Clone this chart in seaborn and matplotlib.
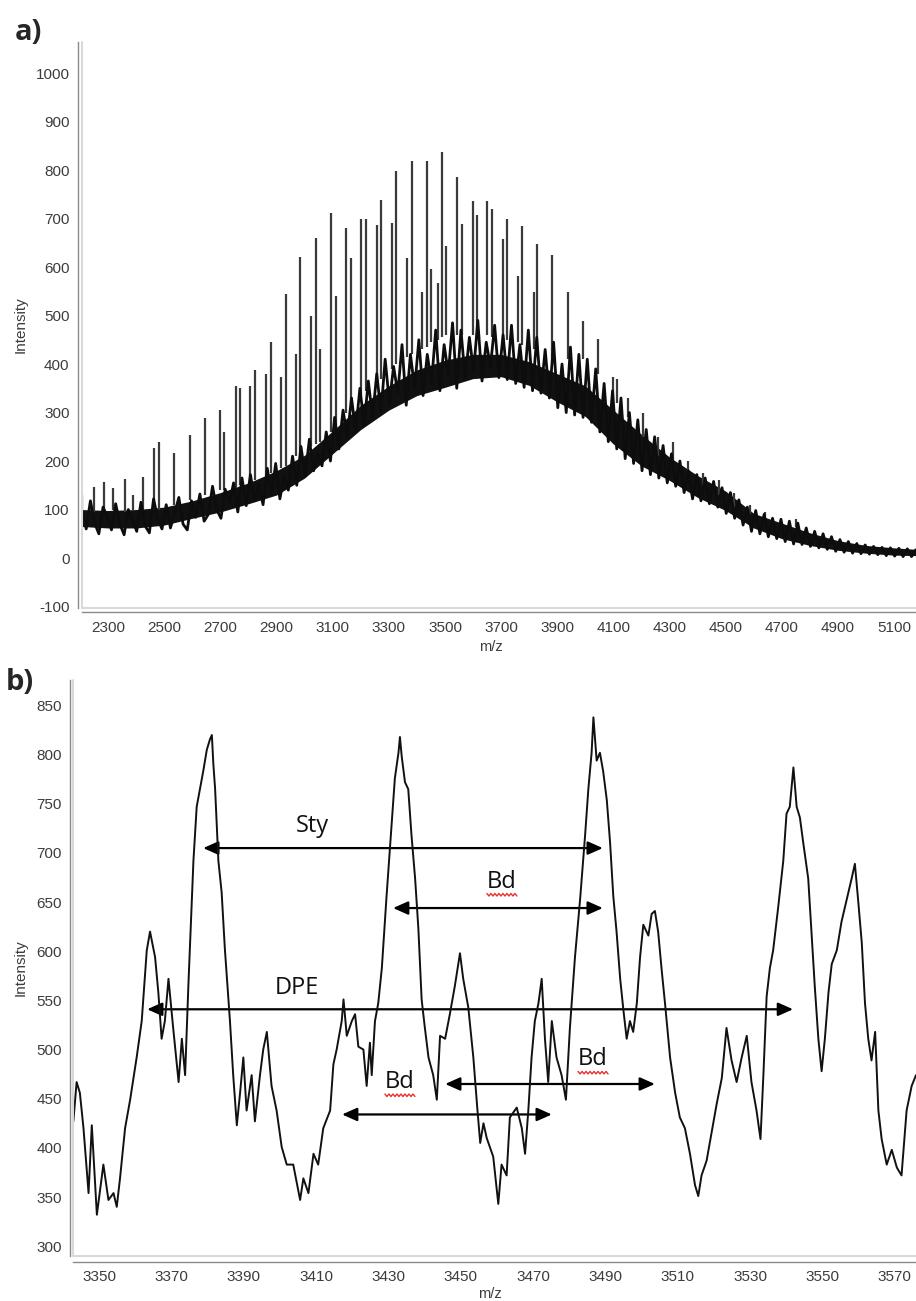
import numpy as np
import pandas as pd
import matplotlib
matplotlib.use("Agg")
import matplotlib.pyplot as plt
import seaborn as sns
from matplotlib.ticker import MultipleLocator, FixedLocator
from matplotlib.patches import FancyArrowPatch
from matplotlib.lines import Line2D
from matplotlib.transforms import IdentityTransform

# ---------------- data: panel a (full spectrum) ----------------
# noisy baseline trace, sampled every 15 m/z from 2207 to 5177
A_TRACE_START, A_TRACE_STEP = 2207, 15
A_TRACE = [95, 60, 118, 72, 50, 105, 85, 58, 112, 70,
           48, 100, 78, 55, 115, 66, 52, 122, 80, 60,
           110, 62, 92, 125, 70, 58, 118, 84, 132, 76,
           90, 148, 100, 82, 142, 112, 155, 95, 165, 108,
           172, 118, 150, 110, 185, 130, 195, 122, 170, 140,
           210, 150, 230, 170, 245, 180, 215, 190, 260, 200,
           290, 225, 305, 250, 330, 262, 350, 275, 365, 290,
           380, 300, 410, 320, 395, 340, 440, 315, 420, 350,
           450, 335, 420, 360, 470, 345, 440, 380, 485, 350,
           470, 370, 455, 385, 490, 365, 445, 395, 480, 372,
           460, 368, 480, 360, 440, 352, 470, 345, 455, 340,
           430, 330, 445, 310, 400, 300, 435, 295, 420, 290,
           410, 280, 390, 260, 360, 240, 345, 225, 330, 205,
           300, 195, 285, 180, 265, 172, 250, 165, 232, 155,
           215, 148, 200, 135, 180, 122, 172, 118, 165, 112,
           158, 105, 145, 92, 135, 82, 120, 68, 105, 55,
           98, 50, 90, 44, 82, 40, 80, 34, 76, 29,
           72, 28, 62, 24, 55, 21, 50, 18, 44, 14,
           38, 12, 34, 10, 30, 9, 27, 8, 24, 7,
           22, 5, 21, 4, 20, 3, 19, 3, 17]
# dense core of the noisy trace (where it is nearly solid black)
A_CORE_MZ = [2207, 2300, 2400, 2500, 2600, 2700, 2800, 2900, 3000, 3100, 3200, 3300, 3400, 3500,
             3600, 3700, 3800, 3900, 4000, 4100, 4200, 4300, 4400, 4500, 4600, 4700, 4800, 4900,
             5000, 5100, 5178]
A_CORE_LO = [65, 62, 62, 68, 82, 95, 112, 130, 165, 215, 265, 305, 335, 352,
             370, 374, 356, 322, 292, 235, 190, 160, 125, 98, 62, 40, 26, 16,
             10, 6, 5]
A_CORE_HI = [100, 98, 100, 105, 118, 135, 155, 180, 212, 262, 315, 355, 388, 408,
             420, 420, 405, 380, 355, 305, 255, 208, 170, 138, 92, 72, 52, 36,
             26, 21, 18]
# sharp oligomer peaks
A_SPIKE_MZ = [2208, 2248, 2287, 2319, 2361, 2390, 2426, 2465, 2482, 2536, 2590, 2646, 2700, 2714,
              2754, 2770, 2807, 2823, 2861, 2879, 2917, 2932, 2969, 2983, 3024, 3039, 3055, 3093,
              3111, 3146, 3164, 3202, 3218, 3257, 3271, 3311, 3326, 3364, 3381, 3419, 3435, 3450,
              3474, 3488, 3504, 3543, 3560, 3599, 3613, 3651, 3667, 3706, 3721, 3759, 3775, 3816,
              3829, 3882, 3938, 3992, 4045, 4099, 4113, 4153, 4207, 4260, 4313, 4367, 4420, 4475,
              4530, 4585, 4640, 4750]
A_SPIKE_TOP = [130, 147, 157, 144, 164, 130, 168, 226, 240, 216, 253, 288, 305, 260,
               355, 351, 355, 387, 380, 445, 373, 544, 420, 620, 500, 660, 432, 712,
               541, 681, 619, 700, 700, 686, 739, 691, 797, 619, 818, 548, 818, 595,
               568, 837, 643, 786, 688, 736, 708, 736, 720, 657, 700, 582, 684, 548,
               647, 624, 549, 489, 452, 373, 370, 330, 300, 250, 240, 200, 175, 160,
               135, 110, 95, 80]
A_SPIKE_BASE = [90, 95, 95, 100, 95, 100, 100, 100, 100, 110, 120, 130, 140, 140,
                145, 150, 155, 160, 170, 175, 185, 190, 210, 215, 230, 235, 240, 260,
                275, 300, 315, 335, 345, 360, 370, 390, 400, 415, 420, 430, 435, 445,
                450, 455, 460, 460, 460, 460, 460, 460, 455, 450, 450, 445, 440, 430,
                430, 410, 410, 410, 380, 330, 320, 290, 250, 210, 200, 160, 150, 130,
                105, 90, 80, 65]
A_XTICKS = [2300, 2500, 2700, 2900, 3100, 3300, 3500, 3700, 3900, 4100, 4300, 4500, 4700, 4900, 5100]
A_YTICKS = [-100, 0, 100, 200, 300, 400, 500, 600, 700, 800, 900, 1000]

# ---------------- data: panel b (zoomed spectrum) ----------------
B_MZ = [3342.9, 3343.8, 3344.7, 3345.7, 3347.1, 3348.0, 3349.4, 3351.2, 3352.6, 3354.0, 3354.9, 3355.8,
        3357.2, 3358.6, 3360.4, 3361.8, 3363.2, 3364.1, 3365.5, 3366.4, 3367.3, 3368.2, 3369.2, 3370.5,
        3372.0, 3372.9, 3373.8, 3374.7, 3376.1, 3377.0, 3377.9, 3378.8, 3379.8, 3380.7, 3381.2, 3381.6,
        3382.1, 3383.0, 3383.9, 3384.8, 3386.2, 3387.1, 3388.1, 3389.0, 3389.9, 3390.8, 3392.2, 3393.1,
        3394.5, 3395.4, 3396.4, 3397.7, 3399.1, 3400.5, 3401.9, 3403.7, 3405.6, 3406.5, 3407.9, 3409.3,
        3410.6, 3412.0, 3413.9, 3414.8, 3415.7, 3417.1, 3417.6, 3418.5, 3419.9, 3420.8, 3421.7, 3423.1,
        3424.0, 3424.9, 3425.4, 3426.3, 3427.2, 3428.2, 3429.5, 3430.9, 3431.8, 3432.8, 3433.2, 3433.7,
        3434.6, 3435.5, 3436.4, 3437.4, 3438.3, 3439.2, 3440.1, 3441.1, 3442.4, 3443.4, 3444.3, 3445.7,
        3447.0, 3448.4, 3449.8, 3450.7, 3452.1, 3453.5, 3454.6, 3455.4, 3456.3, 3457.2, 3459.0, 3460.4,
        3461.3, 3462.7, 3463.6, 3465.5, 3466.9, 3467.8, 3468.7, 3469.6, 3470.5, 3471.5, 3472.4, 3473.3,
        3474.2, 3475.2, 3476.5, 3477.9, 3479.1, 3480.2, 3481.6, 3483.0, 3484.4, 3485.3, 3486.2, 3486.7,
        3487.6, 3488.5, 3489.4, 3490.4, 3491.3, 3492.2, 3493.1, 3494.1, 3495.0, 3495.9, 3496.8, 3497.7,
        3498.7, 3499.6, 3500.5, 3501.9, 3502.8, 3503.7, 3504.6, 3505.6, 3506.5, 3507.9, 3509.3, 3510.6,
        3512.0, 3513.4, 3514.8, 3515.7, 3516.6, 3518.0, 3519.4, 3520.8, 3522.2, 3523.5, 3524.9, 3526.3,
        3527.7, 3529.1, 3530.4, 3531.8, 3532.9, 3533.7, 3534.6, 3535.5, 3536.4, 3537.8, 3539.2, 3540.1,
        3541.0, 3542.0, 3542.9, 3543.8, 3544.7, 3546.1, 3547.0, 3547.9, 3548.9, 3549.8, 3550.7, 3551.7,
        3552.6, 3554.0, 3555.3, 3556.7, 3558.1, 3559.0, 3559.9, 3560.9, 3561.8, 3562.7, 3563.6, 3564.6,
        3565.5, 3566.4, 3567.8, 3569.2, 3570.6, 3571.9, 3573.3, 3574.7, 3575.9]
B_INT = [427, 467, 456, 420, 354, 423, 332, 383, 347, 354, 340, 369,
         420, 449, 492, 529, 601, 620, 594, 558, 511, 529, 572, 522,
         467, 511, 474, 565, 692, 747, 765, 783, 805, 816, 820, 791,
         765, 692, 660, 602, 529, 474, 423, 456, 492, 438, 474, 427,
         474, 500, 518, 463, 438, 401, 383, 383, 347, 369, 354, 394,
         383, 420, 438, 485, 500, 529, 551, 514, 529, 536, 503, 500,
         463, 507, 474, 529, 547, 583, 656, 729, 776, 802, 818, 798,
         772, 765, 718, 674, 623, 551, 522, 492, 474, 449, 514, 511,
         536, 565, 598, 572, 543, 492, 440, 405, 425, 410, 391, 343,
         383, 372, 431, 441, 420, 394, 438, 492, 529, 547, 572, 511,
         467, 529, 492, 474, 449, 522, 594, 652, 718, 765, 802, 838,
         794, 802, 783, 754, 711, 656, 620, 572, 540, 511, 529, 518,
         547, 594, 627, 616, 638, 641, 620, 580, 547, 492, 456, 431,
         420, 394, 362, 351, 372, 387, 416, 445, 471, 522, 489, 467,
         492, 514, 467, 438, 409, 474, 554, 583, 601, 645, 692, 740,
         747, 787, 747, 736, 711, 674, 620, 565, 511, 478, 511, 558,
         587, 601, 630, 652, 674, 689, 652, 609, 547, 511, 489, 518,
         438, 409, 383, 398, 380, 372, 438, 463, 474]
B_XTICKS = [3350, 3370, 3390, 3410, 3430, 3450, 3470, 3490, 3510, 3530, 3550, 3570]
B_YTICKS = [300, 350, 400, 450, 500, 550, 600, 650, 700, 750, 800, 850]

# annotations (mass differences)
ANN_LABELS = ["Sty", "Bd", "DPE", "Bd", "Bd"]
ANN_X0 = [3378.8, 3431.3, 3363.3, 3445.7, 3417.2]
ANN_X1 = [3489.3, 3489.3, 3541.9, 3503.7, 3475.2]
ANN_Y = [705, 644, 541, 465, 434]
ANN_TX = [3409.0, 3461.4, 3404.7, 3486.6, 3433.2]
ANN_TY = [727, 671, 563, 490, 467]

# ---------------- figure ----------------
sns.set_theme(style="white")
plt.rcParams['font.family'] = ['Liberation Sans', 'DejaVu Sans']
plt.rcParams['axes.unicode_minus'] = False

W, H = 916, 1301
fig = plt.figure(figsize=(W / 100, H / 100), dpi=100)
fig.patch.set_facecolor("white")

TICK_COLOR = "#3c3c3c"
AX_COLOR = "#8a8a8a"


def style_axes(ax, out_x, out_y):
    for s in ["top", "right"]:
        ax.spines[s].set_visible(False)
    for s in ["left", "bottom"]:
        ax.spines[s].set_color(AX_COLOR)
        ax.spines[s].set_linewidth(1.0)
    ax.spines["left"].set_position(("outward", out_y))
    ax.spines["bottom"].set_position(("outward", out_x))
    ax.tick_params(axis="both", which="major", direction="out", length=4, width=1,
                   color=AX_COLOR, labelcolor=TICK_COLOR, labelsize=11, pad=2)
    ax.tick_params(axis="both", which="minor", direction="out", length=2.5, width=0.8,
                   color=AX_COLOR)
    # faint plot-area border (left & bottom)
    ax.plot([0, 0], [0, 1], transform=ax.transAxes, color="#d9d9d9", lw=1.5, clip_on=False)
    ax.plot([0, 1], [0, 0], transform=ax.transAxes, color="#d9d9d9", lw=1.5, clip_on=False)
    ax.set_facecolor("white")
    ax.grid(False)


# ---- panel a ----
axa = fig.add_axes([82 / W, 1 - 608 / H, 1 - 82 / W, (608 - 42) / H])
trace_mz = A_TRACE_START + A_TRACE_STEP * np.arange(len(A_TRACE))
axa.vlines(A_SPIKE_MZ, A_SPIKE_BASE, A_SPIKE_TOP, color="#3a3a3a", lw=1.6)
axa.fill_between(A_CORE_MZ, A_CORE_LO, A_CORE_HI, color="#111111", lw=0)
sns.lineplot(x=trace_mz, y=A_TRACE, ax=axa, color="#0d0d0d", lw=2.0, sort=False, estimator=None)
axa.set_xlim(2207, 5178)
axa.set_ylim(-103, 1064)
axa.xaxis.set_major_locator(FixedLocator(A_XTICKS))
axa.xaxis.set_minor_locator(MultipleLocator(100))
axa.yaxis.set_major_locator(FixedLocator(A_YTICKS))
axa.yaxis.set_minor_locator(MultipleLocator(50))
style_axes(axa, 3, 3)
axa.set_xlabel("m/z", fontsize=10.5, color=TICK_COLOR, labelpad=0)
axa.set_ylabel("Intensity", fontsize=11, color=TICK_COLOR, labelpad=6)
axa.xaxis.set_label_coords(0.49, -0.057)

# ---- panel b ----
axb = fig.add_axes([73 / W, 1 - 1256 / H, 1 - 73 / W, (1256 - 680) / H])
sns.lineplot(x=B_MZ, y=B_INT, ax=axb, color="#111111", lw=1.4, sort=False, estimator=None)
axb.set_xlim(3342.8, 3575.9)
axb.set_ylim(290, 876)
axb.xaxis.set_major_locator(FixedLocator(B_XTICKS))
axb.xaxis.set_minor_locator(MultipleLocator(5))
axb.yaxis.set_major_locator(FixedLocator(B_YTICKS))
axb.yaxis.set_minor_locator(MultipleLocator(25))
style_axes(axb, 4, 2)
axb.set_xlabel("m/z", fontsize=10.5, color=TICK_COLOR, labelpad=0)
axb.set_ylabel("Intensity", fontsize=11, color=TICK_COLOR, labelpad=6)
axb.xaxis.set_label_coords(0.495, -0.053)

# wavy "spell-check" underline geometry (in pixels, relative to a label centre)
wave_dx = np.arange(-15, 16, 2)
wave_dy = np.where(np.arange(len(wave_dx)) % 2 == 0, -12.0, -14.5)

for lab, x0, x1, y, tx, ty in zip(ANN_LABELS, ANN_X0, ANN_X1, ANN_Y, ANN_TX, ANN_TY):
    arr = FancyArrowPatch((x0, y), (x1, y), arrowstyle="<|-|>,head_length=9,head_width=4",
                          color="black", lw=1.6, mutation_scale=1, shrinkA=0, shrinkB=0)
    axb.add_patch(arr)
    axb.text(tx, ty, lab, ha="center", va="center", fontsize=17, color="#111111",
             family=["Open Sans", "DejaVu Sans"])
    if lab == "Bd":
        px, py = axb.transData.transform((tx, ty))
        fig.add_artist(Line2D(px + wave_dx, py + wave_dy, transform=IdentityTransform(),
                              color="#e8322f", lw=1.0))

# panel letters
fig.text(28 / W, 1 - 33 / H, "a)", fontsize=21, fontweight="bold", ha="center", va="center",
         family=["Open Sans", "DejaVu Sans"])
fig.text(20 / W, 1 - 683 / H, "b)", fontsize=21, fontweight="bold", ha="center", va="center",
         family=["Open Sans", "DejaVu Sans"])

fig.savefig("out.png", dpi=100, facecolor="white")
